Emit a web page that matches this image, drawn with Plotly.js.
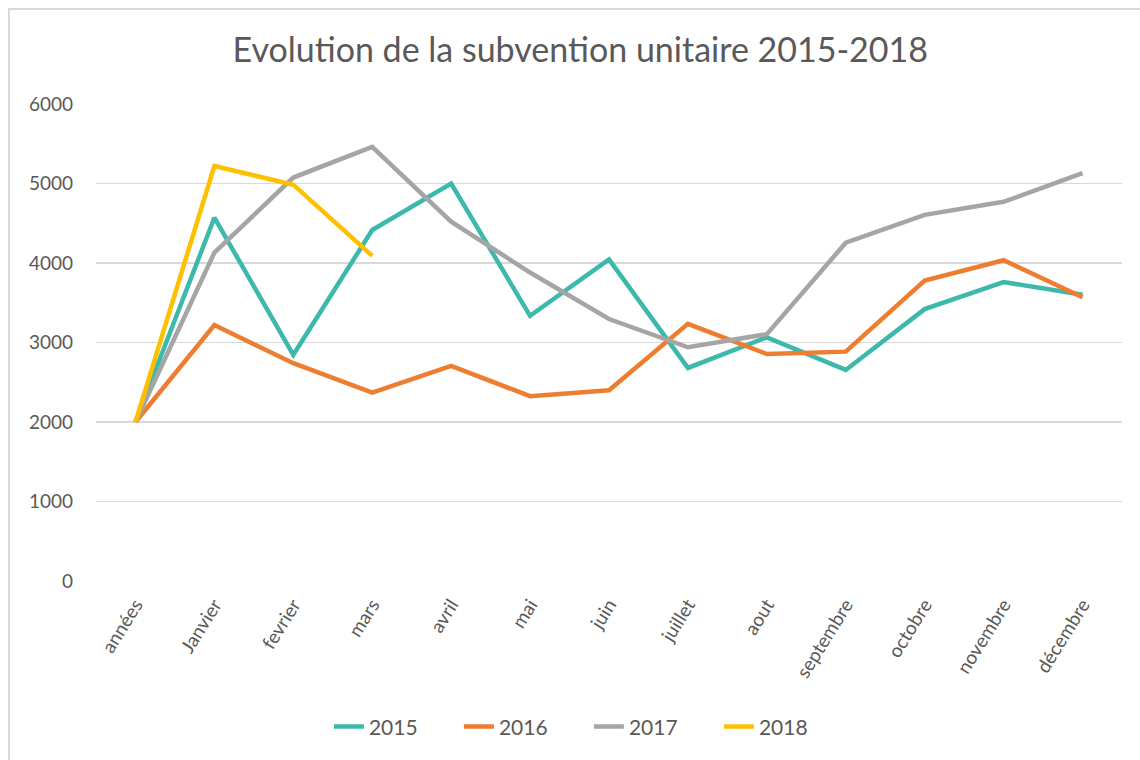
<!DOCTYPE html>
<html>
<head>
<meta charset="utf-8">
<script src="https://cdn.plot.ly/plotly-3.0.1.min.js"></script>
<style>
html,body{margin:0;padding:0;background:#fff;}
#frame{position:absolute;left:8px;top:8px;width:1140px;height:760px;border-left:2px solid #d9d9d9;border-top:2px solid #d9d9d9;box-sizing:border-box;}
#chart{position:absolute;left:0;top:0;width:1140px;height:760px;}
</style>
</head>
<body>
<div id="frame"></div>
<div id="chart"></div>
<script>
const categories = ["années","Janvier","fevrier","mars","avril","mai","juin","juillet","aout","septembre","octobre","novembre","décembre"];
const v2015 = [2000, 4570, 2845, 4415, 5000, 3335, 4045, 2680, 3065, 2655, 3420, 3760, 3600];
const v2016 = [2000, 3220, 2740, 2370, 2705, 2325, 2400, 3235, 2855, 2885, 3780, 4035, 3570];
const v2017 = [2000, 4130, 5075, 5460, 4520, 3880, 3295, 2940, 3105, 4255, 4605, 4770, 5130];
const v2018 = [2000, 5220, 4985, 4090];
const seriesNames = ["2015","2016","2017","2018"];
const colors = ["#3cb8ac","#ed7d31","#a5a5a5","#ffc000"];

const allVals = [v2015, v2016, v2017, v2018];
const traces = allVals.map((vals, i) => ({
  type: "scatter",
  mode: "lines",
  name: seriesNames[i],
  x: categories.slice(0, vals.length),
  y: vals,
  line: {color: colors[i], width: 4.5, shape: "linear"},
  hoverinfo: "x+y+name"
}));

const font = "Lato, 'Open Sans', sans-serif";
const layout = {
  width: 1140,
  height: 760,
  paper_bgcolor: "rgba(0,0,0,0)",
  plot_bgcolor: "rgba(0,0,0,0)",
  margin: {l: 96, r: 18, t: 104, b: 179},
  title: {
    text: "Evolution de la subvention unitaire 2015-2018",
    font: {family: font, size: 34, color: "#595959"},
    x: 0.509, xanchor: "center", y: 0.934, yanchor: "middle"
  },
  xaxis: {
    type: "category",
    categoryorder: "array",
    categoryarray: categories,
    range: [-0.5, 12.5],
    tickangle: -58,
    tickfont: {family: font, size: 19, color: "#595959"},
    showgrid: false,
    zeroline: false,
    showline: false,
    ticks: "",
    ticklabelstandoff: 8
  },
  yaxis: {
    range: [0, 6000],
    dtick: 1000,
    tickfont: {family: font, size: 19, color: "#595959"},
    gridcolor: "#d9d9d9",
    gridwidth: 1.5,
    zeroline: false,
    showline: false,
    ticks: "",
    ticklabelstandoff: 22
  },
  showlegend: true,
  legend: {
    orientation: "h",
    x: 0.227, xanchor: "left",
    y: -0.306, yanchor: "middle",
    font: {family: font, size: 21, color: "#595959"},
    entrywidth: 85,
    entrywidthmode: "pixels",
    itemwidth: 30,
    traceorder: "normal"
  }
};

Plotly.newPlot("chart", traces, layout, {displayModeBar: false, staticPlot: true});
</script>
</body>
</html>
